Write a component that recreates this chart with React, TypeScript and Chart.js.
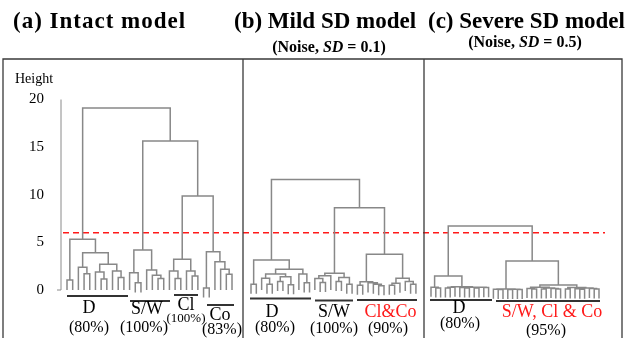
import React, { useEffect, useRef } from 'react';
import { Chart, registerables } from 'chart.js';

Chart.register(...registerables);

type Tree = 0 | [number, Tree, Tree];

// ---------------- data ----------------
const panelTitles = ['(a) Intact model', '(b) Mild SD model', '(c) Severe SD model'];
const panelNoiseSD = ['', '0.1', '0.5'];
const yAxisTitle = 'Height';
const yTickValues = [0, 5, 10, 15, 20];
const cutHeight = 6;

// merge trees: [merge height, left, right]; 0 = leaf
const treeIntact: Tree = [19.1,
  [5.32, [1.05, 0, 0], [3.9, [2.4, 0, [1.7, 0, 0]], [2.7, [1.9, 0, [1.15, 0, 0]], [2.0, 0, [1.3, 0, 0]]]]],
  [15.64,
    [4.2, [1.8, 0, [0.75, 0, 0]], [2.1, 0, [1.55, 0, [1.2, 0, 0]]]],
    [9.87,
      [3.22, [2.0, 0, [1.2, 0, 0]], [2.0, 0, [1.47, 0, 0]]],
      [4.02, [0.2, 0, 0], [2.97, 0, [2.17, 0, [1.65, 0, 0]]]]]]];

const treeMild: Tree = [11.6,
  [3.15, [0.6, 0, 0], [2.17,
    [1.68, [1.23, 0, [0.6, 0, 0]], [1.4, [0.9, 0, 0], [0.55, 0, 0]]],
    [1.68, 0, [0.75, 0, 0]]]],
  [8.64,
    [1.75, [1.5, [1.2, 0, [0.8, 0, 0]], 0], [1.3, [0.9, 0, 0], [0.6, 0, 0]]],
    [3.75,
      [0.87, [0.5, 0, 0], [0.75, 0, [0.6, 0, [0.45, 0, 0]]]],
      [1.23, [0.7, [0.5, 0, 0], 0], [0.9, 0, [0.6, 0, 0]]]]]];

const treeSevere: Tree = [6.72,
  [1.47, [0.3, 0, [0.2, 0, 0]],
    [0.35, [0.3, [0.2, 0, 0], 0], [0.3, [0.25, 0, [0.2, 0, 0]], [0.3, [0.2, 0, 0], [0.25, 0, 0]]]]],
  [3.04,
    [0.1, [0.07, 0, [0.05, 0, 0]], [0.08, [0.05, 0, 0], [0.06, 0, 0]]],
    [0.52,
      [0.3, [0.15, 0, [0.1, 0, 0]], [0.2, [0.1, 0, 0], [0.15, 0, [0.1, 0, 0]]]],
      [0.25, [0.1, 0, 0], [0.2, [0.12, 0, [0.08, 0, 0]], [0.15, 0, [0.1, 0, 0]]]]]]];

const clusterNamesIntact = ['D', 'S/W', 'Cl', 'Co'];
const clusterPctIntact = ['(80%)', '(100%)', '(100%)', '(83%)'];
const clusterNamesMild = ['D', 'S/W', 'Cl&Co'];
const clusterPctMild = ['(80%)', '(100%)', '(90%)'];
const clusterNamesSevere = ['D', 'S/W, Cl & Co'];
const clusterPctSevere = ['(80%)', '(95%)'];

// ---------------- layout / style ----------------
const W = 626;
const H = 338;
const PX_PER_UNIT = 9.525;
const BASE_Y = 290;
const Y_MAX = BASE_Y / PX_PER_UNIT;
const Y_MIN = Y_MAX - H / PX_PER_UNIT;
const HANG = 1.0;
const FONT = '"Liberation Serif", "Times New Roman", serif';
const LINE_GREY = '#888888';
const RED = '#ff1a1a';

const panelLeafLayout = [
  { x0: 67, dx: 5.69 },
  { x0: 251, dx: 5.32 },
  { x0: 431, dx: 4.8 },
];

const frame = { left: 3, right: 622, top: 59, dividers: [243, 424] };
const cutLineX = [63, 605];
const titleLayout = [
  { x: 13, spacing: 1.0 },
  { x: 234, spacing: 0 },
  { x: 428, spacing: 0 },
];

type LabelLayout = { name: [number, number, number]; pct: [number, number, number]; line: [number, number, number]; red: boolean };

const intactLabelLayout: LabelLayout[] = [
  { name: [89, 307, 18], pct: [89, 327, 16], line: [67, 128, 296], red: false },
  { name: [147, 308, 18], pct: [144, 327, 16], line: [130, 170, 301], red: false },
  { name: [186, 304, 18], pct: [186, 318.5, 13], line: [174, 198, 295], red: false },
  { name: [220, 314, 18], pct: [222, 329, 16], line: [207, 234, 305], red: false },
];
const mildLabelLayout: LabelLayout[] = [
  { name: [272, 311.5, 18], pct: [275, 327, 16], line: [250, 311, 298.5], red: false },
  { name: [334, 311.5, 18], pct: [334, 328.5, 16], line: [315, 353, 300.5], red: false },
  { name: [390.5, 311, 18], pct: [388, 328.5, 16], line: [357, 417, 300], red: true },
];
const severeLabelLayout: LabelLayout[] = [
  { name: [459, 307.5, 18], pct: [460, 323.5, 16], line: [430, 492, 300], red: false },
  { name: [552, 311.5, 18], pct: [546, 330, 16], line: [496, 600, 301], red: true },
];

type Pt = { x: number; y: number | null };

function dendroPoints(tree: Tree, x0: number, dx: number): Pt[] {
  let leaf = 0;
  const pts: Pt[] = [];
  const walk = (node: Tree, parentH: number): { x: number; h: number } => {
    if (node === 0) {
      const x = x0 + dx * leaf++;
      return { x, h: Math.min(parentH - HANG, 0) };
    }
    const [h, l, r] = node;
    const a = walk(l, h);
    const b = walk(r, h);
    pts.push({ x: a.x, y: a.h }, { x: a.x, y: h }, { x: b.x, y: h }, { x: b.x, y: b.h }, { x: b.x, y: null });
    return { x: (a.x + b.x) / 2, h };
  };
  walk(tree, Infinity);
  return pts;
}

function drawRich(ctx: CanvasRenderingContext2D, parts: { t: string; f: string }[], cx: number, by: number) {
  let total = 0;
  for (const p of parts) { ctx.font = p.f; total += ctx.measureText(p.t).width; }
  let x = cx - total / 2;
  ctx.textAlign = 'left';
  for (const p of parts) { ctx.font = p.f; ctx.fillText(p.t, x, by); x += ctx.measureText(p.t).width; }
}

const decorPlugin = {
  id: 'decor',
  afterDraw(chart: any) {
    const ctx: CanvasRenderingContext2D = chart.ctx;
    const ys = chart.scales.y;
    ctx.save();
    // frame
    ctx.strokeStyle = '#3a3a3a';
    ctx.lineWidth = 1.3;
    ctx.beginPath();
    ctx.moveTo(frame.left, H); ctx.lineTo(frame.left, frame.top);
    ctx.lineTo(frame.right, frame.top); ctx.lineTo(frame.right, H);
    for (const d of frame.dividers) { ctx.moveTo(d, frame.top); ctx.lineTo(d, H); }
    ctx.stroke();

    // titles
    ctx.fillStyle = '#000';
    ctx.textBaseline = 'alphabetic';
    ctx.font = `bold 23px ${FONT}`;
    ctx.textAlign = 'left';
    panelTitles.forEach((t, i) => {
      (ctx as any).letterSpacing = `${titleLayout[i].spacing}px`;
      ctx.fillText(t, titleLayout[i].x, 28);
    });
    (ctx as any).letterSpacing = '0px';
    const subCx = [0, 329, 525];
    const subBy = [0, 52, 47];
    panelNoiseSD.forEach((sd, i) => {
      if (!sd) return;
      drawRich(ctx, [
        { t: '(Noise, ', f: `bold 16px ${FONT}` },
        { t: 'SD', f: `italic bold 16px ${FONT}` },
        { t: ` = ${sd})`, f: `bold 16px ${FONT}` },
      ], subCx[i], subBy[i]);
    });

    // y axis
    const axX = 61;
    ctx.strokeStyle = '#8a8a8a';
    ctx.lineWidth = 1;
    ctx.beginPath();
    const yTop = ys.getPixelForValue(yTickValues[yTickValues.length - 1]);
    const yBot = ys.getPixelForValue(yTickValues[0]);
    ctx.moveTo(axX, yTop); ctx.lineTo(axX, yBot); ctx.lineTo(axX - 4, yBot);
    ctx.stroke();
    ctx.font = `15px ${FONT}`;
    ctx.textAlign = 'right';
    ctx.textBaseline = 'middle';
    ctx.fillStyle = '#000';
    for (const v of yTickValues) ctx.fillText(String(v), 44, ys.getPixelForValue(v));
    ctx.textAlign = 'left';
    ctx.font = `14px ${FONT}`;
    ctx.fillText(yAxisTitle, 15, 79);

    // cluster labels
    const groups: [string[], string[], LabelLayout[]][] = [
      [clusterNamesIntact, clusterPctIntact, intactLabelLayout],
      [clusterNamesMild, clusterPctMild, mildLabelLayout],
      [clusterNamesSevere, clusterPctSevere, severeLabelLayout],
    ];
    ctx.textAlign = 'center';
    ctx.textBaseline = 'alphabetic';
    for (const [names, pcts, lay] of groups) {
      names.forEach((n, i) => {
        const L = lay[i];
        ctx.strokeStyle = '#333';
        ctx.lineWidth = 2;
        ctx.beginPath();
        ctx.moveTo(L.line[0], L.line[2]); ctx.lineTo(L.line[1], L.line[2]);
        ctx.stroke();
        ctx.fillStyle = L.red ? RED : '#000';
        ctx.font = `${L.name[2]}px ${FONT}`;
        ctx.fillText(n, L.name[0], L.name[1] + 0.33 * L.name[2]);
        ctx.fillStyle = '#000';
        ctx.font = `${L.pct[2]}px ${FONT}`;
        ctx.fillText(pcts[i], L.pct[0], L.pct[1] + 0.3 * L.pct[2]);
      });
    }
    ctx.restore();
  },
};

export default function App() {
  const ref = useRef<HTMLCanvasElement>(null);
  useEffect(() => {
    if (!ref.current) return;
    const trees = [treeIntact, treeMild, treeSevere];
    const datasets: any[] = trees.map((t, i) => ({
      data: dendroPoints(t, panelLeafLayout[i].x0, panelLeafLayout[i].dx),
      borderColor: LINE_GREY,
      borderWidth: 1.5,
      pointRadius: 0,
      spanGaps: false,
      fill: false,
    }));
    datasets.push({
      data: [{ x: cutLineX[0], y: cutHeight }, { x: cutLineX[1], y: cutHeight }],
      borderColor: RED,
      borderWidth: 1.5,
      borderDash: [6, 4],
      pointRadius: 0,
      fill: false,
    });
    const chart = new Chart(ref.current, {
      type: 'line',
      data: { datasets },
      options: {
        animation: false,
        responsive: false,
        devicePixelRatio: 1,
        layout: { padding: 0 },
        plugins: { legend: { display: false }, tooltip: { enabled: false } },
        scales: {
          x: { type: 'linear', min: 0, max: W, display: false },
          y: { type: 'linear', min: Y_MIN, max: Y_MAX, display: false },
        },
        elements: { line: { tension: 0 } },
      },
      plugins: [decorPlugin],
    });
    return () => chart.destroy();
  }, []);
  return (
    <div style={{ position: 'fixed', left: 0, top: 0, width: W, height: H, background: '#fff' }}>
      <canvas ref={ref} width={W} height={H} style={{ width: W, height: H, display: 'block' }} />
    </div>
  );
}
